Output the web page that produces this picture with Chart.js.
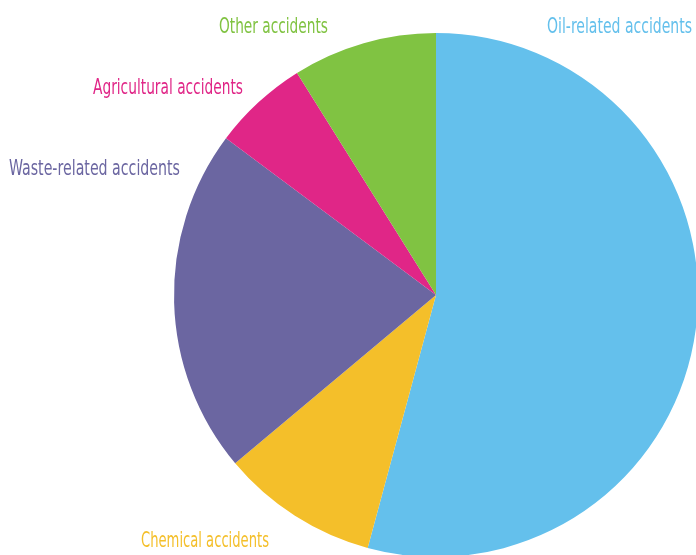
<!DOCTYPE html>
<html>
<head>
<meta charset="utf-8">
<script src="https://cdn.jsdelivr.net/npm/chart.js@4/dist/chart.umd.min.js"></script>
<style>
  html, body { margin: 0; padding: 0; background: #ffffff; overflow: hidden; }
  #wrap { position: relative; width: 696px; height: 555px; }
</style>
</head>
<body>
<div id="wrap"><canvas id="c" width="696" height="555"></canvas></div>
<script>
const categories = ["Oil-related accidents", "Chemical accidents", "Waste-related accidents", "Agricultural accidents", "Other accidents"];
const shares = [54.2, 9.7, 21.3, 5.9, 8.9];
const colors = ["#64C0EC", "#F4BF2A", "#6B66A1", "#E02687", "#80C342"];

// label placement: [x, baseline y, align, fitted width]
const labelLayout = [
  [692, 33, "right", 145],
  [269, 547, "right", 128],
  [180, 175, "right", 171],
  [243, 94, "right", 150],
  [328, 33, "right", 109]
];

const labelPlugin = {
  id: "sliceLabels",
  afterDraw(chart) {
    const ctx = chart.ctx;
    ctx.save();
    ctx.font = "21px 'Liberation Sans Narrow', 'DejaVu Sans Condensed', sans-serif";
    ctx.textBaseline = "alphabetic";
    categories.forEach((name, i) => {
      const [x, y, align, w] = labelLayout[i];
      ctx.fillStyle = colors[i];
      ctx.textAlign = align;
      ctx.fillText(name, x, y, w);
    });
    ctx.restore();
  }
};

new Chart(document.getElementById("c"), {
  type: "pie",
  data: {
    labels: categories,
    datasets: [{
      data: shares,
      backgroundColor: colors,
      borderWidth: 0,
      radius: 262,
      clip: false
    }]
  },
  options: {
    responsive: false,
    animation: false,
    layout: { padding: { left: 176, right: 0, top: 35, bottom: 0 } },
    plugins: {
      legend: { display: false },
      tooltip: { enabled: false }
    }
  },
  plugins: [labelPlugin]
});
</script>
</body>
</html>
